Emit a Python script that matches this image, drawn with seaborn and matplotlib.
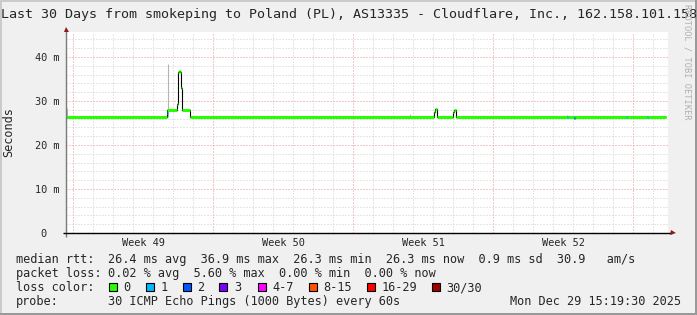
import numpy as np
import pandas as pd
import matplotlib
matplotlib.use("Agg")
import matplotlib.pyplot as plt
from matplotlib.patches import Rectangle
from matplotlib.transforms import blended_transform_factory
import seaborn as sns

# ------------------------------------------------------------------ data
title = "Last 30 Days from smokeping to Poland (PL), AS13335 - Cloudflare, Inc., 162.158.101.158"

# median RTT (ms) as a step series: each value holds from its start day until the next one
step_start_days = [0.0, 5.035, 5.535, 5.585, 5.635, 5.685, 5.735, 5.785, 6.185,
                   18.415, 18.465, 18.565, 19.365, 19.415, 19.5]
step_ms = [26.3, 27.9, 29.3, 36.6, 36.9, 36.6, 32.9, 27.9, 26.3,
           27.4, 28.2, 26.3, 27.4, 28.0, 26.3]
series_end_day = 29.985

# smoke (spread of the individual pings) at single samples
smoke_days = [0.05, 5.085, 17.2, 25.065]
smoke_low_ms = [26.3, 26.3, 26.6, 26.4]
smoke_high_ms = [28.4, 38.4, 27.0, 26.9]

# samples with lost pings (out of 30)
loss_days = [5.035, 25.05, 25.4, 28.0, 29.07]
loss_ms = [27.3, 26.3, 26.1, 26.3, 26.3]
loss_pings = [1, 1, 2, 1, 1]

# legend / colour classes
loss_labels = ["0", "1", "2", "3", "4-7", "8-15", "16-29", "30/30"]
loss_colors = ["#26ff00", "#00b8ff", "#0059ff", "#7e00ff",
               "#ff00ff", "#ff5500", "#ff0000", "#a10000"]

# axes
y_ticks = [0, 10, 20, 30, 40]
y_tick_labels = ["0  ", "10 m", "20 m", "30 m", "40 m"]
week_labels = ["Week 49", "Week 50", "Week 51", "Week 52"]
week_start_days = [0.36, 7.36, 14.36, 21.36, 28.36]
first_midnight_day = 0.36

# statistics text
rtt_stats = "26.4 ms avg  36.9 ms max  26.3 ms min  26.3 ms now  0.9 ms sd  30.9   am/s"
loss_stats = "0.02 % avg  5.60 % max  0.00 % min  0.00 % now"
probe_text = "30 ICMP Echo Pings (1000 Bytes) every 60s"
stamp_text = "Mon Dec 29 15:19:30 2025"
watermark = "RRDTOOL / TOBI OETIKER"

# ------------------------------------------------------------------ style
sns.set_style("white")
plt.rcParams["font.family"] = ["DejaVu Sans Mono"]
plt.rcParams["lines.solid_capstyle"] = "butt"

W, H, DPI = 697, 315, 100
fig = plt.figure(figsize=(W / DPI, H / DPI), dpi=DPI, facecolor="#f0f0f0")


def fx(x):
    return x / W


def fy(y):
    return 1 - y / H


# frame shading
fig.add_artist(Rectangle((0, 0), 2 / W, 1, transform=fig.transFigure, color="#cbcbcb", lw=0))
fig.add_artist(Rectangle((0, 1 - 2 / H), 1, 2 / H, transform=fig.transFigure, color="#cbcbcb", lw=0))
fig.add_artist(Rectangle((0, 0), 1, 2 / H, transform=fig.transFigure, color="#999999", lw=0))
fig.add_artist(Rectangle((1 - 2 / W, 0), 2 / W, 1, transform=fig.transFigure, color="#999999", lw=0))

L, R, T, B = 66, 668, 32, 233
ax = fig.add_axes([fx(L), fy(B), (R - L) / W, (B - T) / H])
ax.set_facecolor("white")

# smoke
sm = pd.DataFrame({
    "day": np.repeat(smoke_days, 2),
    "ms": np.ravel(np.column_stack([smoke_low_ms, smoke_high_ms])),
    "sid": np.repeat(np.arange(len(smoke_days)), 2),
})
sns.lineplot(data=sm, x="day", y="ms", units="sid", estimator=None, sort=False,
             color="#b4b4b4", lw=0.8, ax=ax, legend=False)

# median as thin black step line
med_x = step_start_days + [series_end_day]
med_y = step_ms + [step_ms[-1]]
sns.lineplot(x=med_x, y=med_y, drawstyle="steps-post", color="black", lw=0.8,
             estimator=None, sort=False, ax=ax, legend=False)

# green (no loss) horizontal segments
seg_end = step_start_days[1:] + [series_end_day]
gd = pd.DataFrame({
    "day": np.ravel(np.column_stack([step_start_days, seg_end])),
    "ms": np.repeat(step_ms, 2),
    "seg": np.repeat(np.arange(len(step_ms)), 2),
})
sns.lineplot(data=gd, x="day", y="ms", units="seg", estimator=None, sort=False,
             color=loss_colors[0], lw=2.2, ax=ax, legend=False)


# loss-coloured samples
def loss_class(n):
    if n <= 3:
        return n
    if n <= 7:
        return 4
    if n <= 15:
        return 5
    if n <= 29:
        return 6
    return 7


sample_w = 0.05
ld = pd.DataFrame({
    "day": np.ravel(np.column_stack([loss_days, np.add(loss_days, sample_w)])),
    "ms": np.repeat(loss_ms, 2),
    "lid": np.repeat(np.arange(len(loss_days)), 2),
    "cls": np.repeat([loss_labels[loss_class(n)] for n in loss_pings], 2),
})
sns.lineplot(data=ld, x="day", y="ms", units="lid", hue="cls", estimator=None, sort=False,
             palette=dict(zip(loss_labels, loss_colors)), lw=2.2, ax=ax, legend=False)

# axes, grid, ticks
ax.set_xlim(0, 30.1)
ax.set_ylim(0, 45.7)
for s in ax.spines.values():
    s.set_visible(False)
ax.set_yticks(y_ticks)
ax.set_yticklabels(y_tick_labels)
ax.set_yticks(np.arange(0, 45.7, 2), minor=True)
ax.set_xticks(week_start_days)
ax.set_xticklabels([])
ax.set_xticks(np.arange(first_midnight_day, 30.0, 1.0), minor=True)
ax.grid(which="minor", color="#cfcfcf", lw=0.72, ls=(0, (1, 2)))
ax.grid(which="major", color="#e99090", lw=0.72, ls=(0, (1, 2)))
ax.set_axisbelow(True)
ax.tick_params(axis="y", which="major", length=2, width=0.7, color="#555555",
               labelsize=7.4, pad=2.9, direction="out")
ax.tick_params(axis="y", which="minor", length=0)
ax.tick_params(axis="x", which="both", length=2, width=0.7, color="#555555", direction="out")
ax.set_xlabel("")
ax.set_ylabel("")

# axes lines with arrows
ax.plot([0, 0], [-0.8, 46.0], color="#7a7a7a", lw=1.0, clip_on=False, zorder=5)
ax.plot([0], [46.3], marker="^", ms=3.6, color="#8b1a1a", clip_on=False, zorder=6, mew=0)
ax.plot([-0.15, 30.3], [0, 0], color="black", lw=1.0, clip_on=False, zorder=5)
ax.plot([30.35], [0], marker=">", ms=3.6, color="#8b1a1a", clip_on=False, zorder=6, mew=0)

# week labels
tr = blended_transform_factory(ax.transData, fig.transFigure)
for ws, lab in zip(week_start_days[:-1], week_labels):
    ax.text(ws + 3.5, fy(246), lab, transform=tr, ha="center", va="baseline", fontsize=7.4)

# title, axis label, watermark
fig.text(fx(349), fy(18), title, ha="center", va="baseline", fontsize=9.65)
fig.text(fx(9), fy(132), "Seconds", rotation=90, ha="center", va="center", fontsize=8.55)
fig.text(fx(687), fy(62), watermark, rotation=270, ha="center", va="center",
         fontsize=6.2, color="#b0b0b0")

# legend block
FS = 8.55
rows = [263.3, 277.3, 291.3, 305.3]
fig.text(fx(16), fy(rows[0]), "median rtt:", fontsize=FS, va="baseline")
fig.text(fx(108), fy(rows[0]), rtt_stats, fontsize=FS, va="baseline")
fig.text(fx(16), fy(rows[1]), "packet loss:", fontsize=FS, va="baseline")
fig.text(fx(108), fy(rows[1]), loss_stats, fontsize=FS, va="baseline")
fig.text(fx(16), fy(rows[2]), "loss color:", fontsize=FS, va="baseline")
box_x = [108.7, 145.7, 182.7, 219.3, 257.7, 308.6, 366.6, 431.7]
for bx, lab, col in zip(box_x, loss_labels, loss_colors):
    fig.add_artist(Rectangle((fx(bx), fy(291)), 8 / W, 8 / H, transform=fig.transFigure,
                             facecolor=col, edgecolor="black", lw=0.8))
    fig.text(fx(bx + 14.6), fy(rows[2]), lab, fontsize=FS, va="baseline")
fig.text(fx(16), fy(rows[3]), "probe:", fontsize=FS, va="baseline")
fig.text(fx(108), fy(rows[3]), probe_text, fontsize=FS, va="baseline")
fig.text(fx(681), fy(rows[3]), stamp_text, fontsize=FS, va="baseline", ha="right")

fig.savefig("out.png", dpi=DPI, facecolor=fig.get_facecolor())
